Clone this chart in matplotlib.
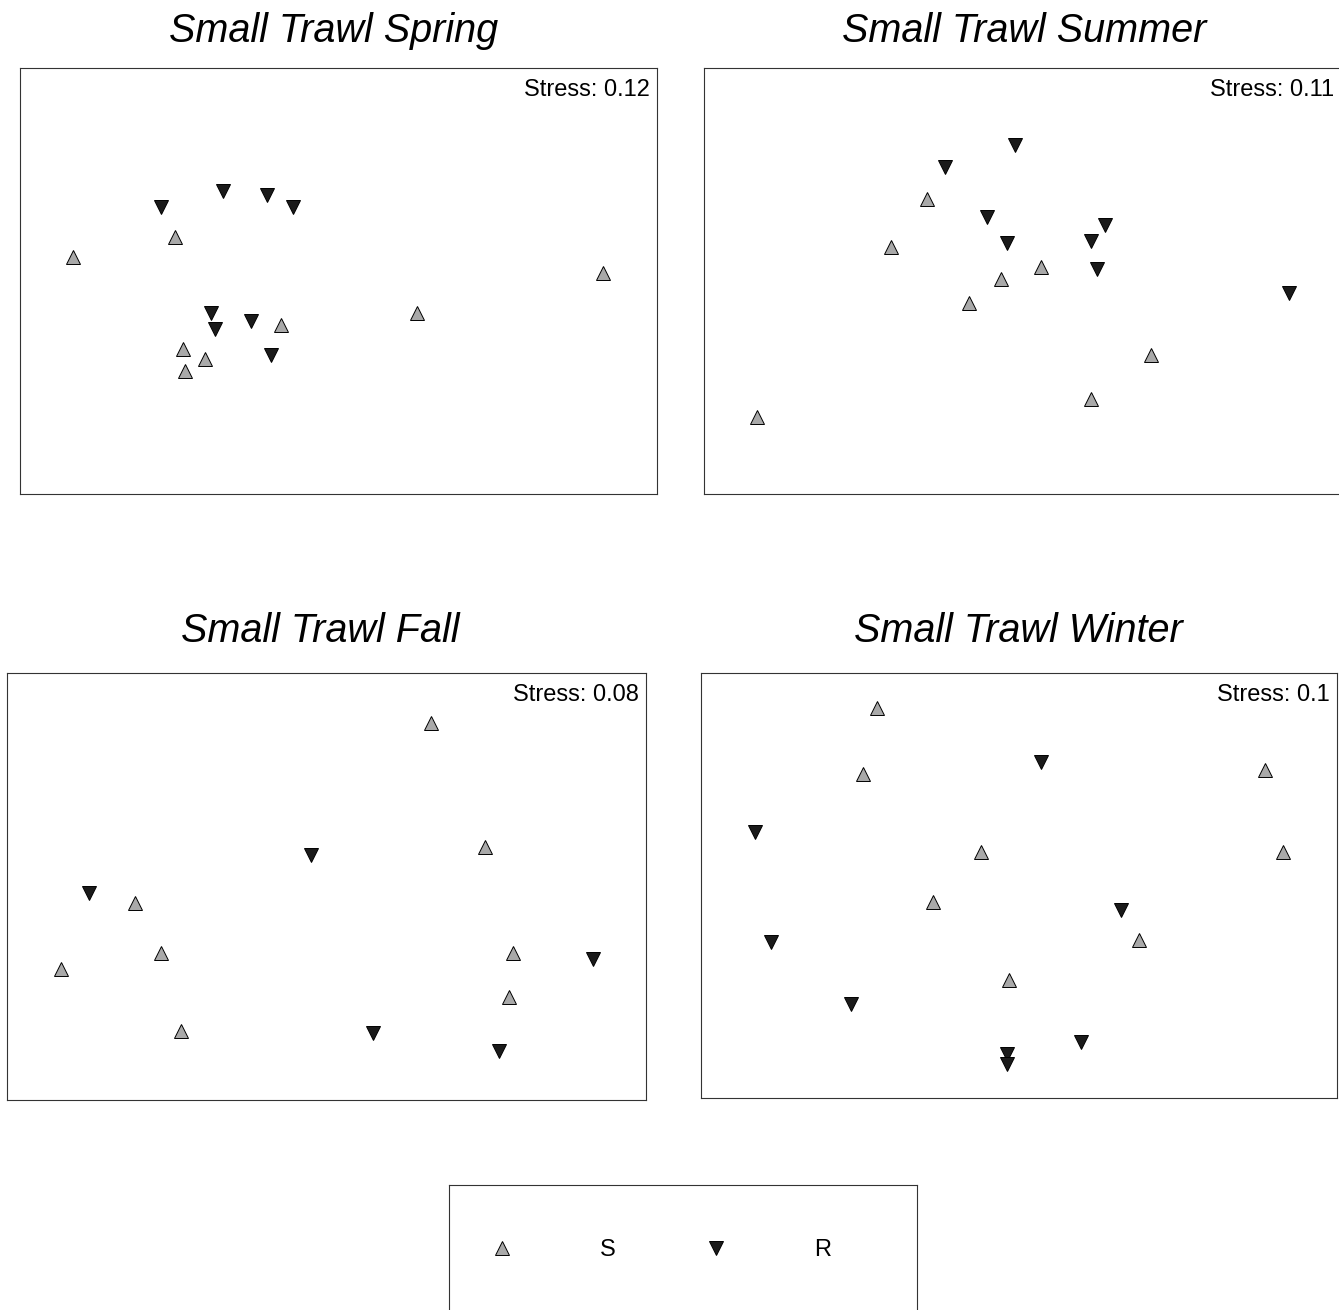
import numpy as np
import matplotlib
matplotlib.use('Agg')
import matplotlib.pyplot as plt

plt.rcParams['font.family'] = ['Liberation Sans', 'DejaVu Sans']

# NMDS scores per season, split by group (S = up triangles, R = down triangles)
spring_s_x = [-0.82, -1.33, 1.32, 0.39, -0.29, -0.78, -0.67, -0.77]
spring_s_y = [0.22, 0.12, 0.04, -0.16, -0.22, -0.34, -0.39, -0.45]
spring_r_x = [-0.89, -0.58, -0.36, -0.23, -0.64, -0.62, -0.44, -0.34]
spring_r_y = [0.37, 0.45, 0.43, 0.37, -0.16, -0.24, -0.20, -0.37]

summer_s_x = [-0.48, -0.66, 0.09, -0.11, -0.27, 0.64, 0.34, -1.33]
summer_s_y = [0.41, 0.17, 0.07, 0.01, -0.11, -0.37, -0.59, -0.68]
summer_r_x = [-0.04, -0.39, -0.18, 0.41, -0.08, 0.34, 0.37, 1.33]
summer_r_y = [0.68, 0.57, 0.32, 0.28, 0.19, 0.20, 0.06, -0.06]

fall_s_x = [0.52, 0.79, -0.96, -0.83, -1.33, 0.93, 0.91, -0.73]
fall_s_y = [0.82, 0.20, -0.08, -0.33, -0.41, -0.33, -0.55, -0.72]
fall_r_x = [-0.08, -1.19, 1.33, 0.23, 0.86]
fall_r_y = [0.16, -0.03, -0.36, -0.73, -0.82]

winter_s_x = [-0.71, -0.78, 1.23, -0.19, 1.32, -0.43, 0.60, -0.05]
winter_s_y = [0.89, 0.56, 0.58, 0.17, 0.17, -0.08, -0.27, -0.47]
winter_r_x = [0.11, -1.32, 0.51, -1.24, -0.84, 0.31, -0.06, -0.06]
winter_r_y = [0.62, 0.27, -0.12, -0.28, -0.59, -0.78, -0.84, -0.89]

titles = ['Small Trawl Spring', 'Small Trawl Summer',
          'Small Trawl Fall', 'Small Trawl Winter']
stress = [0.12, 0.11, 0.08, 0.1]
groups = ['S', 'R']

W, H = 1339, 1310
PX_PER_UNIT = 200.0

# panel frames in pixels: left, top, right, bottom
boxes = [(20, 68, 657, 494), (704, 68, 1341, 494),
         (7, 673, 646, 1100), (701, 673, 1337, 1098)]
title_pos = [(334, 42), (1024, 42), (320, 642), (1018, 642)]
legend_box = (449, 1185, 917, 1315)

S_STYLE = dict(linestyle='none', marker='^', ms=10, mfc='#a9a9a9',
               mec='black', mew=0.7)
R_STYLE = dict(linestyle='none', marker='v', ms=10, mfc='#1a1a1a',
               mec='black', mew=0.7)


def add_box_axes(fig, box):
    """Add an axes occupying a pixel box (left, top, right, bottom)."""
    l, t, r, b = box
    ax = fig.add_axes([l / W, 1 - b / H, (r - l) / W, (b - t) / H])
    ax.set_xticks([])
    ax.set_yticks([])
    for sp in ax.spines.values():
        sp.set_linewidth(0.8)
        sp.set_color('#333333')
    return ax


def draw_panel(fig, box, sx, sy, rx, ry, st):
    """Draw one ordination panel with its stress value."""
    ax = add_box_axes(fig, box)
    l, t, r, b = box
    hw = (r - l) / 2 / PX_PER_UNIT
    hh = (b - t) / 2 / PX_PER_UNIT
    ax.set_xlim(-hw, hw)
    ax.set_ylim(-hh, hh)
    ax.plot(sx, sy, label=groups[0], **S_STYLE)
    ax.plot(rx, ry, label=groups[1], **R_STYLE)
    ax.annotate('Stress: ' + str(st), xy=(1, 1), xycoords='axes fraction',
                xytext=(-7, -28), textcoords='offset pixels',
                ha='right', va='baseline', fontsize=17)
    return ax


fig = plt.figure(figsize=(W / 100, H / 100), dpi=100)

data = [(spring_s_x, spring_s_y, spring_r_x, spring_r_y),
        (summer_s_x, summer_s_y, summer_r_x, summer_r_y),
        (fall_s_x, fall_s_y, fall_r_x, fall_r_y),
        (winter_s_x, winter_s_y, winter_r_x, winter_r_y)]

axes = []
for i in range(4):
    ax = draw_panel(fig, boxes[i], *data[i], stress[i])
    axes.append(ax)
    tx, ty = title_pos[i]
    fig.text(tx / W, 1 - ty / H, titles[i], ha='center', va='baseline',
             fontsize=28.5, style='italic')

# legend in its own framed box below the panels
leg_ax = add_box_axes(fig, legend_box)
handles, labels = axes[0].get_legend_handles_labels()
lx = (478 - legend_box[0]) / (legend_box[2] - legend_box[0])
leg_ax.legend(handles, labels, loc='center left', bbox_to_anchor=(lx, 0.5),
              ncol=2, frameon=False, fontsize=17, numpoints=1,
              handlelength=2.0, handletextpad=3.15, columnspacing=3.27,
              borderpad=0, borderaxespad=0, markerscale=1.05)

fig.savefig('out.png', dpi=100)
